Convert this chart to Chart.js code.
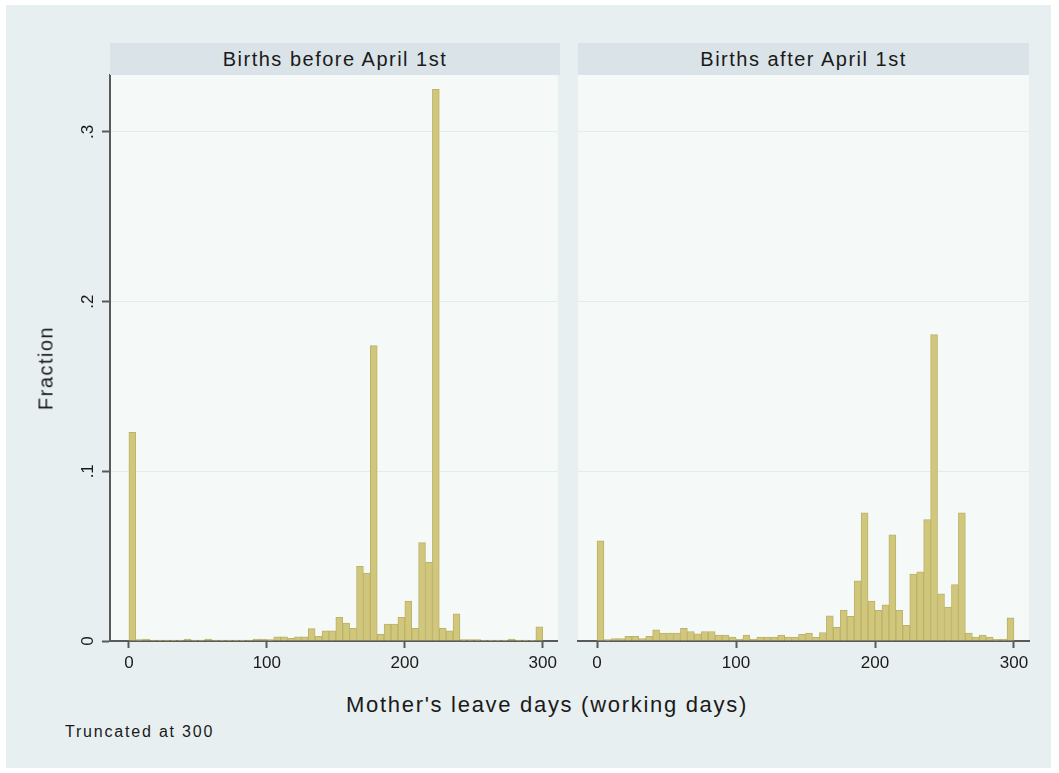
<!DOCTYPE html>
<html>
<head>
<meta charset="utf-8">
<title>Mother's leave days</title>
<script src="https://cdn.jsdelivr.net/npm/chart.js@4.4.1/dist/chart.umd.min.js"></script>
<style>
  html, body { margin: 0; padding: 0; background: #ffffff; }
  #page { position: relative; width: 1059px; height: 773px; overflow: hidden;
          font-family: "Liberation Sans", Arial, sans-serif; color: #1a1a1a; }
  #frame { position: absolute; left: 6px; top: 5px; width: 1045px; height: 763px; background: #E8EFF0; }
  .strip { position: absolute; top: 43px; height: 32px; line-height: 32px; background: #D9E3E8;
           font-size: 20px; letter-spacing: 1.5px; text-align: center; white-space: nowrap; }
  canvas.panel { position: absolute; top: 0; }
  #ytitle { position: absolute; left: 46px; top: 368px; transform: translate(-50%, -50%) rotate(-90deg);
            font-size: 20px; letter-spacing: 1.5px; white-space: nowrap; }
  #xtitle { position: absolute; left: 547px; top: 705px; transform: translate(-50%, -50%);
            font-size: 22px; letter-spacing: 1.7px; white-space: nowrap; }
  #note { position: absolute; left: 65px; top: 723px; font-size: 16px; letter-spacing: 1.8px; white-space: nowrap; }
</style>
</head>
<body>
<div id="page">
  <div id="frame"></div>
  <canvas id="leftPanel" class="panel" width="562" height="680" style="left:0px"></canvas>
  <canvas id="rightPanel" class="panel" width="480" height="680" style="left:560px"></canvas>
  <div class="strip" id="leftStrip" style="left:110px; width:450px;"></div>
  <div class="strip" id="rightStrip" style="left:578px; width:451px;"></div>
  <div id="ytitle"></div>
  <div id="xtitle"></div>
  <div id="note"></div>
</div>
<script>
// Histogram bins: lower edge of each 5-day bin (0 .. 295)
const binStarts = [
  0, 5, 10, 15, 20, 25, 30, 35, 40, 45, 50, 55, 60, 65, 70, 75, 80, 85, 90, 95,
  100, 105, 110, 115, 120, 125, 130, 135, 140, 145, 150, 155, 160, 165, 170, 175, 180, 185, 190, 195,
  200, 205, 210, 215, 220, 225, 230, 235, 240, 245, 250, 255, 260, 265, 270, 275, 280, 285, 290, 295
];
const binWidth = 5;

// Fraction of mothers in each bin, births before April 1st
const beforeFractions = [
  0.123, 0.0008, 0.0012, 0.0006, 0.0005, 0.0005, 0.0005, 0.0005, 0.0012, 0.0006,
  0.0005, 0.0012, 0.0006, 0.0005, 0.0005, 0.0005, 0.0005, 0.0006, 0.0012, 0.0012,
  0.0008, 0.0024, 0.0024, 0.0015, 0.0024, 0.0024, 0.0073, 0.0028, 0.0060, 0.0060,
  0.0140, 0.0106, 0.0074, 0.0440, 0.0400, 0.1740, 0.0040, 0.0100, 0.0100, 0.0140,
  0.0235, 0.0074, 0.0580, 0.0464, 0.3250, 0.0074, 0.0060, 0.0160, 0.0008, 0.0008,
  0.0008, 0.0006, 0.0005, 0.0005, 0.0005, 0.0012, 0.0005, 0.0005, 0.0004, 0.0084
];

// Fraction of mothers in each bin, births after April 1st
const afterFractions = [
  0.0590, 0.0008, 0.0014, 0.0014, 0.0028, 0.0028, 0.0014, 0.0028, 0.0066, 0.0047,
  0.0047, 0.0047, 0.0075, 0.0056, 0.0042, 0.0056, 0.0056, 0.0035, 0.0035, 0.0023,
  0.0012, 0.0035, 0.0012, 0.0023, 0.0023, 0.0023, 0.0035, 0.0023, 0.0023, 0.0040,
  0.0046, 0.0022, 0.0050, 0.0148, 0.0080, 0.0180, 0.0146, 0.0354, 0.0755, 0.0235,
  0.0180, 0.0213, 0.0626, 0.0180, 0.0092, 0.0395, 0.0408, 0.0715, 0.1805, 0.0278,
  0.0200, 0.0332, 0.0755, 0.0047, 0.0023, 0.0035, 0.0023, 0.0010, 0.0012, 0.0136
];

const panelTitles = ['Births before April 1st', 'Births after April 1st'];
const xTicks = [0, 100, 200, 300];
const yTicks = [0, 0.1, 0.2, 0.3];
const yTickLabels = ['0', '.1', '.2', '.3'];
const yAxisTitle = 'Fraction';
const xAxisTitle = "Mother's leave days (working days)";
const noteText = 'Truncated at 300';

document.getElementById('leftStrip').textContent = panelTitles[0];
document.getElementById('rightStrip').textContent = panelTitles[1];
document.getElementById('ytitle').textContent = yAxisTitle;
document.getElementById('xtitle').textContent = xAxisTitle;
document.getElementById('note').textContent = noteText;

const FONT = '"Liberation Sans", Arial, sans-serif';
const AXIS = '#5a5a5a';
const GRID = '#E2ECEF';
const PLOT_BG = '#F5FAF8';
const BAR_FILL = '#D0C67C';
const BAR_EDGE = '#BCB268';

function binPoints(values) {
  return values.map((v, i) => ({ x: binStarts[i] + binWidth / 2, y: v }));
}

// Paints the plot region behind the grid and bars
const plotBackground = {
  id: 'plotBackground',
  beforeDraw(chart) {
    const { ctx, chartArea: a } = chart;
    ctx.save();
    ctx.fillStyle = PLOT_BG;
    ctx.fillRect(a.left, a.top, a.right - a.left, a.bottom - a.top);
    ctx.restore();
  }
};

// Vertical (bottom-to-top) y tick labels placed from the y scale
const verticalYLabels = {
  id: 'verticalYLabels',
  afterDraw(chart) {
    const s = chart.scales.y;
    const ctx = chart.ctx;
    ctx.save();
    ctx.fillStyle = '#1a1a1a';
    ctx.font = '17px ' + FONT;
    ctx.textAlign = 'center';
    ctx.textBaseline = 'alphabetic';
    yTicks.forEach((v, i) => {
      const y = s.getPixelForValue(v);
      ctx.save();
      ctx.translate(s.right - 17, y);
      ctx.rotate(-Math.PI / 2);
      ctx.fillText(yTickLabels[i], 0, 0);
      ctx.restore();
    });
    ctx.restore();
  }
};

function makePanel(canvasId, values, withYAxis, padding) {
  return new Chart(document.getElementById(canvasId), {
    type: 'bar',
    data: {
      datasets: [{
        data: binPoints(values),
        backgroundColor: BAR_FILL,
        borderColor: BAR_EDGE,
        borderWidth: 1,
        borderSkipped: 'start',
        barPercentage: 1,
        categoryPercentage: 1
      }]
    },
    options: {
      responsive: false,
      animation: false,
      events: [],
      layout: { padding },
      plugins: { legend: { display: false }, tooltip: { enabled: false } },
      scales: {
        x: {
          type: 'linear',
          offset: false,
          min: -13.7,
          max: 310.8,
          afterBuildTicks: s => { s.ticks = xTicks.map(v => ({ value: v })); },
          afterFit: s => { s.height = 39; },
          grid: { offset: false, drawOnChartArea: false, drawTicks: true, tickLength: 7, tickColor: AXIS, tickWidth: 2 },
          border: { display: true, color: AXIS, width: 2 },
          ticks: { color: '#1a1a1a', padding: 5, font: { family: FONT, size: 17 }, maxRotation: 0 }
        },
        y: {
          min: 0,
          max: 0.3335,
          afterBuildTicks: s => { s.ticks = yTicks.map(v => ({ value: v })); },
          afterFit: s => { s.width = withYAxis ? 110 : 0; },
          grid: {
            color: c => (c.tick && c.tick.value === 0) ? 'rgba(0,0,0,0)' : GRID,
            lineWidth: 1,
            drawTicks: withYAxis,
            tickLength: 8,
            tickColor: AXIS,
            tickWidth: 2
          },
          border: { display: withYAxis, color: AXIS, width: 2 },
          ticks: { display: false }
        }
      }
    },
    plugins: withYAxis ? [plotBackground, verticalYLabels] : [plotBackground]
  });
}

makePanel('leftPanel', beforeFractions, true, { top: 75, right: 2, bottom: 0, left: 0 });
makePanel('rightPanel', afterFractions, false, { top: 75, right: 11, bottom: 0, left: 18 });
</script>
</body>
</html>
